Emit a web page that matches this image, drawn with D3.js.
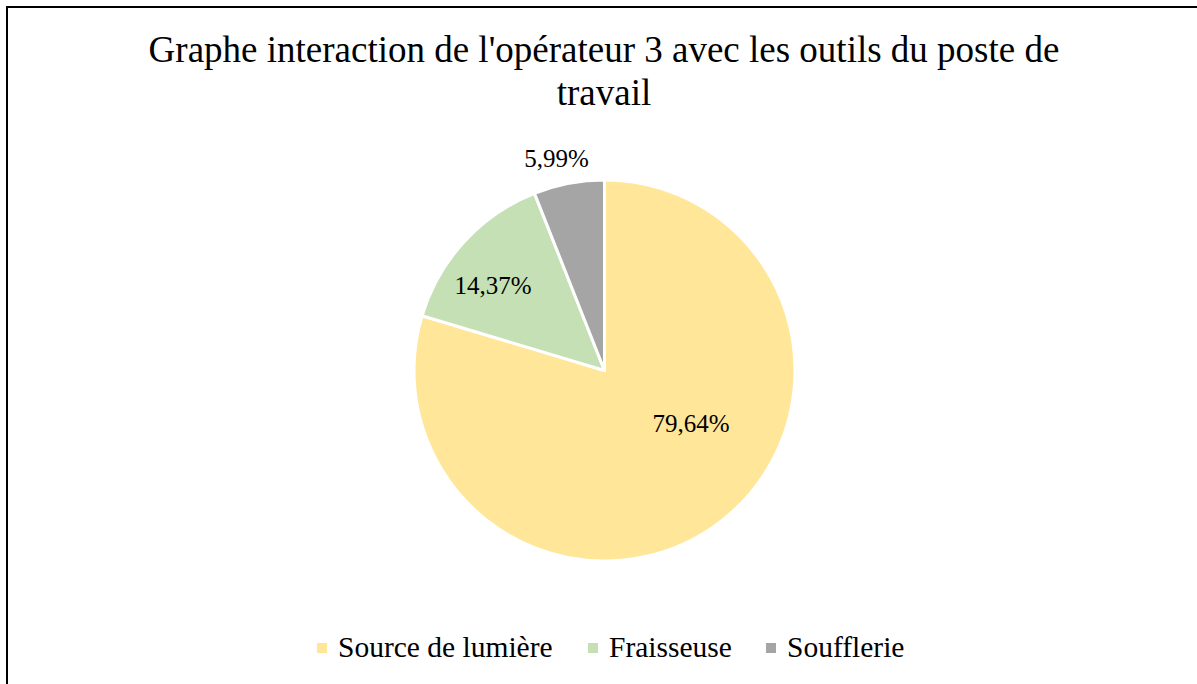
<!DOCTYPE html>
<html>
<head>
<meta charset="utf-8">
<script src="https://cdn.jsdelivr.net/npm/d3@7"></script>
<style>
  html, body { margin: 0; padding: 0; background: #fff; }
  svg { display: block; }
  text { font-family: "Liberation Serif", "Times New Roman", serif; fill: #000; }
</style>
</head>
<body>
<svg id="chart" width="1197" height="684"></svg>
<script>
// Chart data
const categories = ["Source de lumière", "Fraisseuse", "Soufflerie"];
const values = [79.64, 14.37, 5.99];
const valueLabels = ["79,64%", "14,37%", "5,99%"];
const colors = ["#FFE699", "#C5E0B4", "#A5A5A5"];
const titleLines = ["Graphe interaction de l'opérateur 3 avec les outils du poste de", "travail"];

const W = 1197, H = 684;
const svg = d3.select("#chart");

// Outer chart frame (runs past the right and bottom edges)
svg.append("rect")
  .attr("x", 7).attr("y", 7)
  .attr("width", W + 20).attr("height", H + 20)
  .attr("fill", "none").attr("stroke", "#000").attr("stroke-width", 2);

// Title
const title = svg.append("text")
  .attr("text-anchor", "middle")
  .attr("font-size", 37);
titleLines.forEach((line, i) => {
  title.append("tspan")
    .attr("x", 604)
    .attr("y", 62 + i * 43)
    .text(line);
});

// Pie
const cx = 604.5, cy = 370.5, R = 190.5;
const pie = d3.pie().sort(null).value(d => d);
const arcs = pie(values);
const arc = d3.arc().innerRadius(0).outerRadius(R);

const g = svg.append("g").attr("transform", `translate(${cx},${cy})`);
g.selectAll("path.slice")
  .data(arcs)
  .join("path")
  .attr("class", "slice")
  .attr("d", arc)
  .attr("fill", (d, i) => colors[i])
  .attr("stroke", "#fff")
  .attr("stroke-width", 3)
  .attr("stroke-linejoin", "round");

// Data labels: angle (deg, clockwise from top) and distance from centre
const labelAngle = [121.5, 307.2, 347.2];
const labelDist = [101.4, 139.9, 216.9];
g.selectAll("text.val")
  .data(arcs)
  .join("text")
  .attr("class", "val")
  .attr("text-anchor", "middle")
  .attr("dominant-baseline", "central")
  .attr("font-size", 25)
  .attr("transform", (d, i) => {
    const p = d3.pointRadial(labelAngle[i] * Math.PI / 180, labelDist[i]);
    return `translate(${p[0]},${p[1]})`;
  })
  .text((d, i) => valueLabels[i]);

// Legend
const legendX = [317, 588, 766];
const legend = svg.append("g");
categories.forEach((c, i) => {
  legend.append("rect")
    .attr("x", legendX[i]).attr("y", 643)
    .attr("width", 10).attr("height", 10)
    .attr("fill", colors[i]);
  legend.append("text")
    .attr("x", legendX[i] + 21).attr("y", 657)
    .attr("font-size", 29.5)
    .text(c);
});
</script>
</body>
</html>
